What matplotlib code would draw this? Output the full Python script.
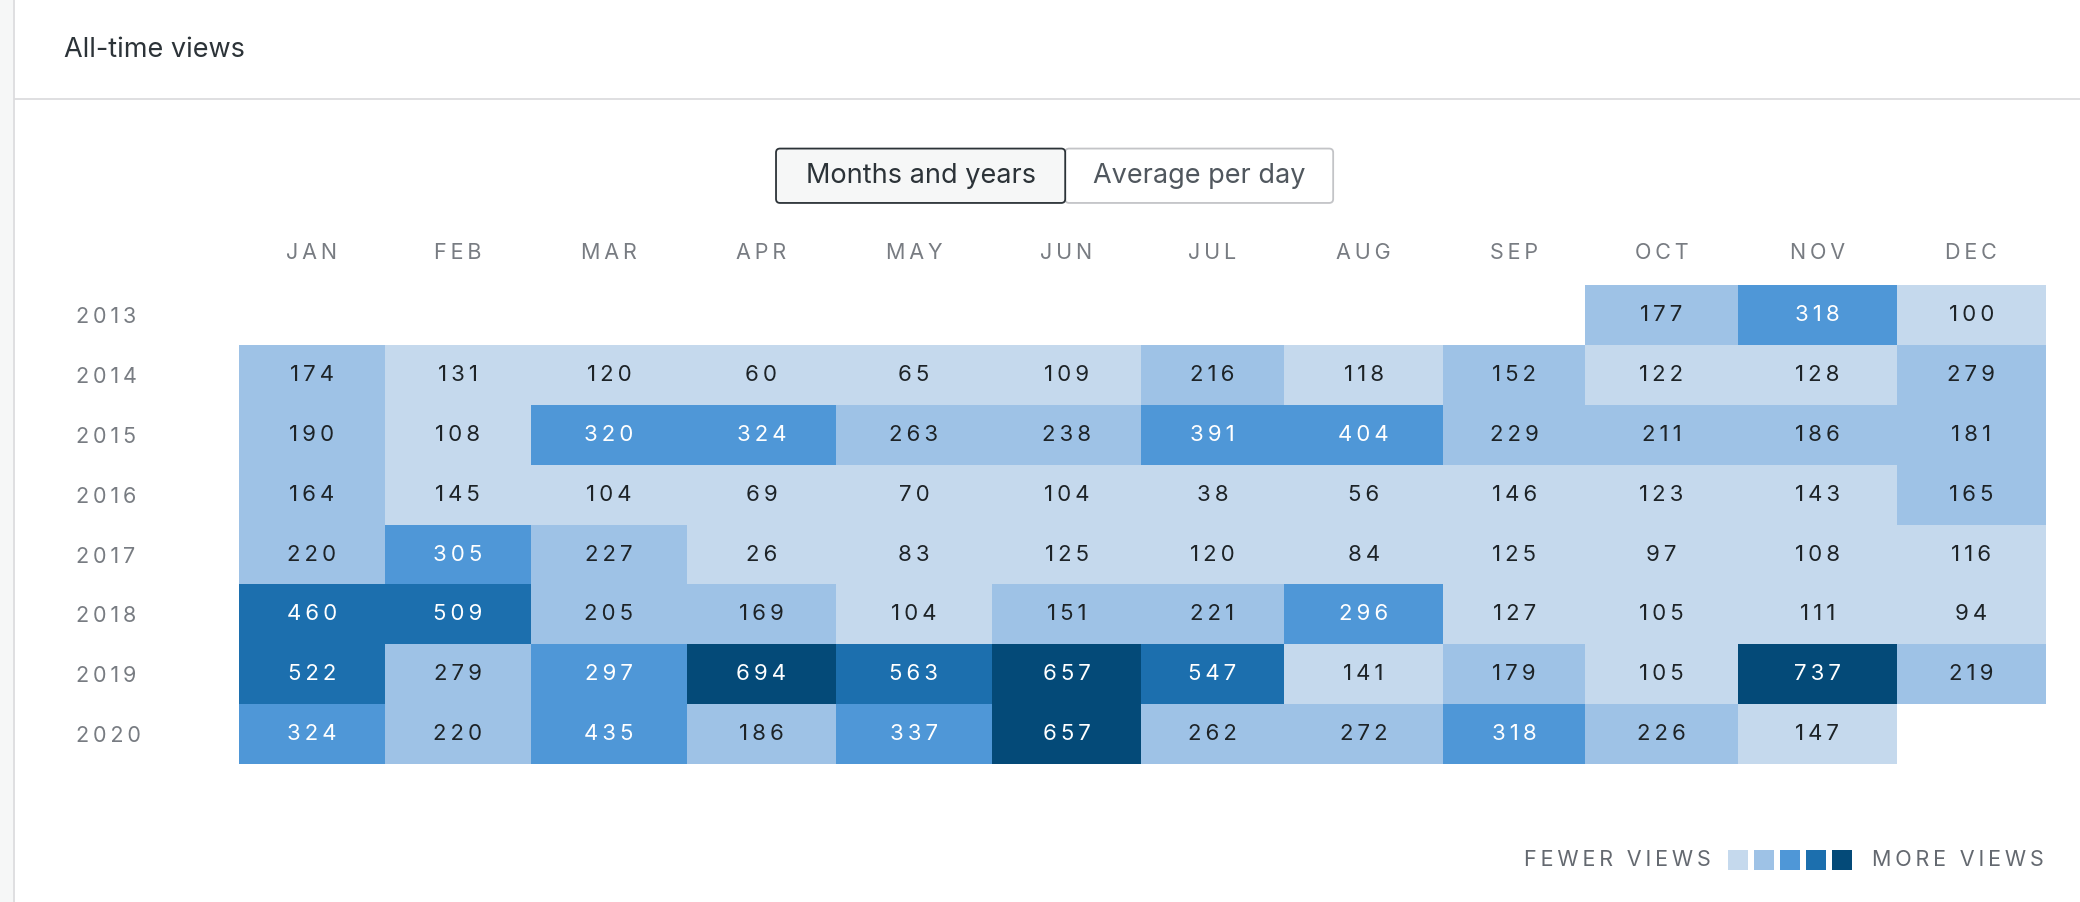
#!/usr/bin/env python

import numpy as np
import matplotlib
matplotlib.use('Agg')
import matplotlib.pyplot as plt
from matplotlib.colors import ListedColormap, BoundaryNorm
from matplotlib.patches import Rectangle, FancyBboxPatch

# data
MONTHS = ['JAN', 'FEB', 'MAR', 'APR', 'MAY', 'JUN',
          'JUL', 'AUG', 'SEP', 'OCT', 'NOV', 'DEC']
YEARS = ['2013', '2014', '2015', '2016', '2017', '2018', '2019', '2020']

NA = np.nan
VIEWS_2013 = [NA, NA, NA, NA, NA, NA, NA, NA, NA, 177, 318, 100]
VIEWS_2014 = [174, 131, 120, 60, 65, 109, 216, 118, 152, 122, 128, 279]
VIEWS_2015 = [190, 108, 320, 324, 263, 238, 391, 404, 229, 211, 186, 181]
VIEWS_2016 = [164, 145, 104, 69, 70, 104, 38, 56, 146, 123, 143, 165]
VIEWS_2017 = [220, 305, 227, 26, 83, 125, 120, 84, 125, 97, 108, 116]
VIEWS_2018 = [460, 509, 205, 169, 104, 151, 221, 296, 127, 105, 111, 94]
VIEWS_2019 = [522, 279, 297, 694, 563, 657, 547, 141, 179, 105, 737, 219]
VIEWS_2020 = [324, 220, 435, 186, 337, 657, 262, 272, 318, 226, 147, NA]

LEVEL_COLORS = ['#c5d9ed', '#9ec2e6', '#4f97d7', '#1c6fae', '#044a78']

# layout, in pixels of a 1568 x 680 canvas
W, H = 1568, 680
GRID_LEFT, GRID_RIGHT, GRID_TOP, GRID_BOTTOM = 180, 1542, 215, 576
COL_WIDTHS = [110, 110, 118, 112, 118, 112, 108, 120, 107, 115, 120, 112]
PX = 0.955  # points per canvas pixel

FONT = ['Inter', 'DejaVu Sans']
GRAY = '#787c82'
DARK = '#1d2327'
LABEL_SIZE = 15.5


def spaced(text, sep='\u2009'):
    return sep.join(text)


def fig_rect(x0, y0, x1, y1):
    return [x0 / W, 1 - y1 / H, (x1 - x0) / W, (y1 - y0) / H]


def main():
    plt.rcParams['font.family'] = FONT
    fig = plt.figure(figsize=(20.8, 9.02), dpi=100)

    # background / chrome
    bg = fig.add_axes([0, 0, 1, 1])
    bg.set_xlim(0, W)
    bg.set_ylim(H, 0)
    bg.axis('off')
    bg.add_patch(Rectangle((0, 0), 10, H, facecolor='#f6f7f7', edgecolor='none'))
    bg.plot([10.5, 10.5], [0, H], color='#dcdcde', lw=1.3)
    bg.plot([11, W], [75, 75], color='#dcdcde', lw=1.3)
    bg.text(48, 38, 'All-time views', fontsize=19.5, color='#2c3338',
            ha='left', va='center')

    # toggle buttons
    bg.add_patch(FancyBboxPatch((803, 112), 202, 41,
                                boxstyle='round,pad=0,rounding_size=3',
                                facecolor='white', edgecolor='#c3c4c7', lw=1.3))
    bg.add_patch(FancyBboxPatch((585, 112), 218, 41,
                                boxstyle='round,pad=0,rounding_size=3',
                                facecolor='#f6f7f7', edgecolor='#2c3338', lw=1.3))
    bg.text(694, 133, 'Months and years', fontsize=19.5, color='#2c3338',
            ha='center', va='center')
    bg.text(904, 133, 'Average per day', fontsize=19.5, color='#50575e',
            ha='center', va='center')

    # heatmap
    values = np.array([VIEWS_2013, VIEWS_2014, VIEWS_2015, VIEWS_2016,
                       VIEWS_2017, VIEWS_2018, VIEWS_2019, VIEWS_2020])
    vmax = np.nanmax(values)
    cmap = ListedColormap(LEVEL_COLORS)
    cmap.set_bad('white')
    norm = BoundaryNorm(np.linspace(0, vmax, len(LEVEL_COLORS) + 1), cmap.N)

    x_edges = np.concatenate([[0], np.cumsum(COL_WIDTHS)]).astype(float)
    x_edges = x_edges / x_edges[-1] * len(MONTHS)
    y_edges = np.arange(len(YEARS) + 1)
    xc = (x_edges[:-1] + x_edges[1:]) / 2
    yc = y_edges[:-1] + 0.5

    ax = fig.add_axes(fig_rect(GRID_LEFT, GRID_TOP, GRID_RIGHT, GRID_BOTTOM))
    ax.pcolormesh(x_edges, y_edges, np.ma.masked_invalid(values),
                  cmap=cmap, norm=norm, edgecolors='none')
    ax.set_xlim(0, len(MONTHS))
    ax.set_ylim(len(YEARS), 0)
    for s in ax.spines.values():
        s.set_visible(False)

    ax.xaxis.tick_top()
    ax.set_xticks(xc)
    ax.set_xticklabels([spaced(m) for m in MONTHS], fontsize=LABEL_SIZE,
                       color=GRAY)
    ax.set_yticks(yc)
    ax.set_yticklabels([spaced(y) for y in YEARS], fontsize=LABEL_SIZE,
                       color=GRAY, ha='left')
    ax.tick_params(length=0)
    ax.tick_params(axis='x', pad=17 * PX)
    ax.tick_params(axis='y', pad=(GRID_LEFT - 57) * PX)

    for i in range(len(YEARS)):
        for j in range(len(MONTHS)):
            v = values[i, j]
            if np.isnan(v):
                continue
            level = min(int(np.ceil(v / vmax * 5)), 5)
            color = 'white' if level >= 3 else DARK
            ax.text(xc[j], yc[i], spaced(str(int(v))), fontsize=16,
                    color=color, ha='center', va='center')

    # legend
    bg.text(1290, 648, spaced('FEWER VIEWS'), fontsize=LABEL_SIZE,
            color='#646970', ha='right', va='center')
    for k, c in enumerate(LEVEL_COLORS):
        bg.add_patch(Rectangle((1303 + k * 19.5, 641), 15, 15,
                               facecolor=c, edgecolor='none'))
    bg.text(1411, 648, spaced('MORE VIEWS'), fontsize=LABEL_SIZE,
            color='#646970', ha='left', va='center')

    fig.savefig('out.png', dpi=100, facecolor='white')


if __name__ == '__main__':
    main()
